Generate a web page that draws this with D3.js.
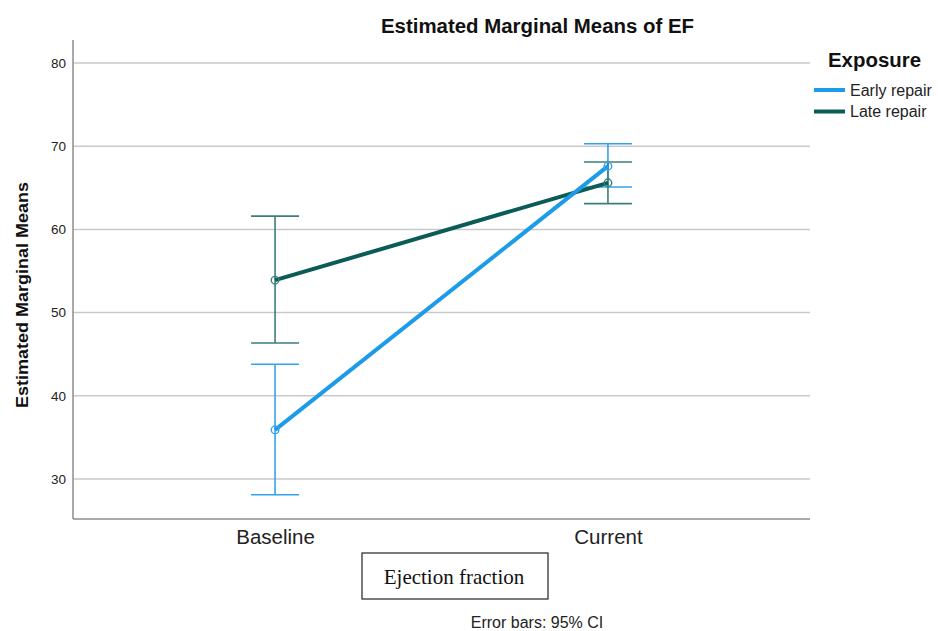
<!DOCTYPE html>
<html><head><meta charset="utf-8">
<script src="https://cdn.jsdelivr.net/npm/d3@7"></script>
<style>body{margin:0;background:#fff;} svg{display:block;}</style>
</head><body>
<svg id="chart" width="938" height="631"></svg>
<script>
const categories = ["Baseline", "Current"];
const seriesNames = ["Early repair", "Late repair"];
const earlyMean = [35.9, 67.6];
const earlyLow = [28.1, 65.1];
const earlyHigh = [43.8, 70.3];
const lateMean = [53.9, 65.6];
const lateLow = [46.35, 63.1];
const lateHigh = [61.6, 68.1];
const yTicks = [30, 40, 50, 60, 70, 80];

(function () {
const series = [
  {name: seriesNames[0], mean: earlyMean, low: earlyLow, high: earlyHigh, color: "#1e9be8", barColor: "#34a3ec"},
  {name: seriesNames[1], mean: lateMean, low: lateLow, high: lateHigh, color: "#0b5c56", barColor: "#3b7f7a"}
];
const SANS = "Liberation Sans, Arial, sans-serif";

const svg = d3.select("#chart");
const pLeft = 73, pRight = 810, pTop = 40, pBottom = 519;
const x = d3.scalePoint().domain(categories).range([pLeft, pRight]).padding(0.607);
const y = d3.scaleLinear().domain([80 - (pBottom - 63) / 8.32, 80]).range([pBottom, 63]);

// gridlines
svg.append("g").selectAll("line").data(yTicks).join("line")
  .attr("x1", pLeft).attr("x2", pRight)
  .attr("y1", d => y(d)).attr("y2", d => y(d))
  .attr("stroke", "#c9c9c9").attr("stroke-width", 1.5);

// axes
const yAxis = d3.axisLeft(y).tickValues(yTicks).tickSize(0).tickPadding(7);
const gy = svg.append("g").attr("transform", `translate(${pLeft},0)`).call(yAxis);
gy.select(".domain").remove();
gy.selectAll("text").attr("font-family", SANS).attr("font-size", 13.5).attr("fill", "#222");
svg.append("line").attr("x1", pLeft).attr("x2", pLeft).attr("y1", pTop).attr("y2", pBottom)
  .attr("stroke", "#8c8c8c").attr("stroke-width", 1.5);

const xAxis = d3.axisBottom(x).tickSize(0).tickPadding(10);
const gx = svg.append("g").attr("transform", `translate(0,${pBottom})`).call(xAxis);
gx.select(".domain").remove();
gx.selectAll("text").attr("font-family", SANS).attr("font-size", 20.5).attr("fill", "#222");
svg.append("line").attr("x1", pLeft).attr("x2", pRight).attr("y1", pBottom).attr("y2", pBottom)
  .attr("stroke", "#8c8c8c").attr("stroke-width", 1.5);

// error bars
const capW = 24;
series.forEach(s => {
  const g = svg.append("g");
  categories.forEach((c, i) => {
    const cx = x(c);
    g.append("line").attr("x1", cx).attr("x2", cx).attr("y1", y(s.low[i])).attr("y2", y(s.high[i]))
      .attr("stroke", s.barColor).attr("stroke-width", 1.6);
    [s.low[i], s.high[i]].forEach(v => {
      g.append("line").attr("x1", cx - capW).attr("x2", cx + capW).attr("y1", y(v)).attr("y2", y(v))
        .attr("stroke", s.barColor).attr("stroke-width", 1.6);
    });
  });
});

// lines
const line = d3.line().x((d, i) => x(categories[i])).y(d => y(d));
series.slice().reverse().forEach(s => {
  svg.append("path").attr("d", line(s.mean)).attr("fill", "none")
    .attr("stroke", s.color).attr("stroke-width", 4);
});
series.forEach(s => {
  svg.append("g").selectAll("circle").data(s.mean).join("circle")
    .attr("cx", (d, i) => x(categories[i])).attr("cy", d => y(d)).attr("r", 3.8)
    .attr("fill", "none").attr("stroke", s.barColor).attr("stroke-width", 1.4);
});

// title
svg.append("text").attr("x", 537.5).attr("y", 33).attr("text-anchor", "middle")
  .attr("font-family", SANS).attr("font-weight", "bold").attr("font-size", 19.5)
  .attr("textLength", 313).attr("lengthAdjust", "spacingAndGlyphs")
  .attr("fill", "#111").text("Estimated Marginal Means of EF");

// y label
svg.append("text").attr("transform", "translate(28,295) rotate(-90)").attr("text-anchor", "middle")
  .attr("font-family", "Liberation Sans Narrow, " + SANS).attr("font-weight", "bold")
  .attr("font-size", 17).attr("textLength", 226).attr("lengthAdjust", "spacingAndGlyphs")
  .attr("fill", "#111").text("Estimated Marginal Means");

// legend
svg.append("text").attr("x", 828).attr("y", 67)
  .attr("font-family", SANS).attr("font-weight", "bold").attr("font-size", 20)
  .attr("textLength", 93).attr("lengthAdjust", "spacingAndGlyphs")
  .attr("fill", "#111").text("Exposure");
const lg = svg.append("g").selectAll("g").data(series).join("g")
  .attr("transform", (d, i) => `translate(814,${90 + i * 21.5})`);
lg.append("line").attr("x1", 0).attr("x2", 31).attr("y1", 0).attr("y2", 0)
  .attr("stroke", d => d.color).attr("stroke-width", 4);
lg.append("text").attr("x", 36).attr("y", 5.5)
  .attr("font-family", SANS).attr("font-size", 16).attr("fill", "#222")
  .text(d => d.name);

// x label box
svg.append("rect").attr("x", 362).attr("y", 553).attr("width", 186).attr("height", 46)
  .attr("fill", "#fff").attr("stroke", "#222").attr("stroke-width", 1.2);
svg.append("text").attr("x", 454).attr("y", 584).attr("text-anchor", "middle")
  .attr("font-family", "Liberation Serif, Times New Roman, serif").attr("font-size", 21).attr("fill", "#111")
  .text("Ejection fraction");

svg.append("text").attr("x", 537).attr("y", 628).attr("text-anchor", "middle")
  .attr("font-family", SANS).attr("font-size", 16).attr("fill", "#222")
  .text("Error bars: 95% CI");
})();
</script>
</body></html>
